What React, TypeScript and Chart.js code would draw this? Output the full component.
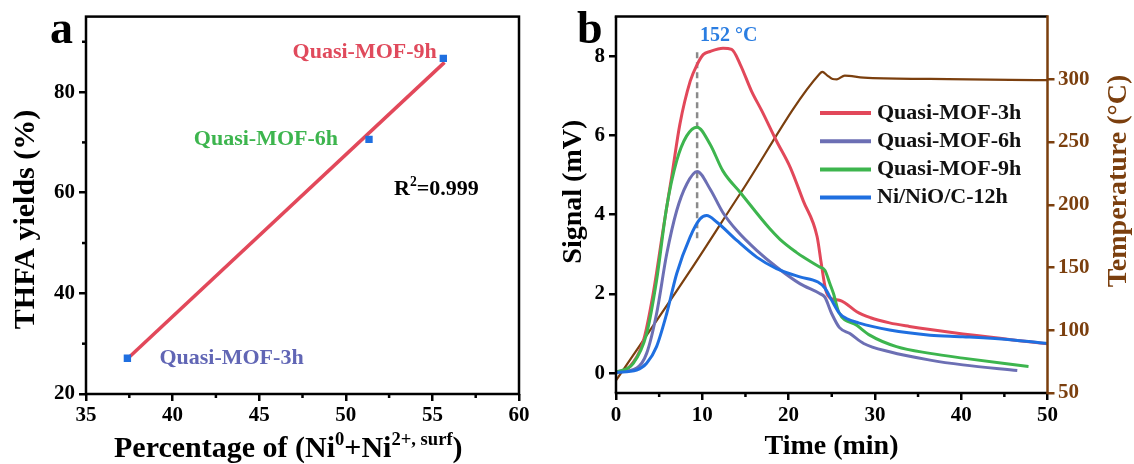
import React, { useEffect, useRef } from "react";
import { Chart, registerables } from "chart.js";

Chart.register(...registerables);

const SERIF = '"Liberation Serif", "Times New Roman", Times, serif';

// ---------------- Panel a data ----------------
const aSampleNames = ["Quasi-MOF-3h", "Quasi-MOF-6h", "Quasi-MOF-9h"];
const aNiPercent = [37.39, 51.34, 55.63];
const aThfaYield = [27.1, 70.6, 86.7];
const aFitPercent = [37.3, 55.7];
const aFitYield = [26.7, 85.9];
const aXTicks = [35, 40, 45, 50, 55, 60];
const aXMinorTicks = [37.5, 42.5, 47.5, 52.5, 57.5];
const aYTicks = [20, 40, 60, 80];
const aYMinorTicks = [30, 50, 70, 90];
const aR2Value = "=0.999";

// ---------------- Panel b data ----------------
const bNames = ["Quasi-MOF-3h", "Quasi-MOF-6h", "Quasi-MOF-9h", "Ni/NiO/C-12h"];

const time3h = [0, 1.6, 3.2, 4.3, 5.5, 6.5, 7.4, 8.6, 9.4, 10.1, 10.9, 12.4, 13.4, 14.4, 15.7, 16.9, 18.6, 20.2, 21.7, 23.3, 23.8, 24.3, 24.8, 25.9, 26.5, 27.9, 29.5, 31.7, 34, 36.4, 40.2, 43, 46, 50];
const signal3h = [0.02, 0.17, 0.84, 2.0, 3.68, 5.03, 6.28, 7.37, 7.79, 8.04, 8.12, 8.2, 8.17, 7.79, 7.12, 6.62, 5.86, 5.19, 4.35, 3.45, 2.75, 2.1, 1.9, 1.84, 1.78, 1.55, 1.4, 1.27, 1.18, 1.1, 0.99, 0.92, 0.84, 0.74];

const time6h = [0, 2.4, 3.55, 4.7, 5.87, 7.03, 8.19, 9.4, 10.9, 12.4, 14.0, 16.3, 18.6, 21.3, 23.6, 24.2, 25.0, 25.9, 27.1, 28.7, 31.7, 36.4, 40.2, 46.5];
const signal6h = [0.02, 0.13, 0.5, 1.5, 3.0, 4.1, 4.77, 5.09, 4.65, 4.05, 3.6, 3.1, 2.68, 2.26, 2.01, 1.92, 1.5, 1.15, 1.0, 0.75, 0.54, 0.33, 0.21, 0.07];

const time9h = [0, 2.0, 3.55, 4.7, 5.87, 7.03, 8.19, 9.4, 10.9, 12.4, 14.4, 17.8, 19.0, 20.9, 21.7, 23.6, 24.2, 24.8, 25.2, 25.8, 27.9, 29.4, 32.5, 36.4, 40.2, 47.8];
const signal9h = [0.02, 0.25, 1.0, 2.34, 4.19, 5.36, 5.99, 6.21, 5.78, 5.1, 4.56, 3.65, 3.38, 3.05, 2.93, 2.68, 2.6, 2.25, 2.01, 1.55, 1.21, 0.96, 0.67, 0.5, 0.38, 0.17];

const time12h = [0, 2.4, 3.55, 4.7, 5.87, 7.03, 8.57, 9.73, 10.5, 11.7, 14.0, 16.3, 18.6, 21.3, 23.4, 24.2, 25.0, 25.9, 26.7, 28.1, 31.7, 36.4, 40.2, 46, 50];
const signal12h = [0.02, 0.08, 0.25, 0.67, 1.5, 2.51, 3.43, 3.89, 3.98, 3.81, 3.35, 2.93, 2.64, 2.43, 2.3, 2.15, 1.84, 1.51, 1.38, 1.27, 1.09, 0.96, 0.92, 0.84, 0.75];

const timeTemp = [0, 8.6, 14.4, 23.6, 23.9, 24.5, 25.1, 25.6, 26.5, 28.7, 36.4, 45.7, 50];
const temperature = [60, 147.5, 209, 304.5, 306, 303, 300.3, 300, 303, 301.3, 300.3, 299.5, 299.3];

const bXTicks = [0, 10, 20, 30, 40, 50];
const bXMinorTicks = [5, 15, 25, 35, 45];
const bYTicks = [0, 2, 4, 6, 8];
const bTempTicks = [50, 100, 150, 200, 250, 300];

const peakTime = 9.4;
const peakSignalRange = [3.4, 8.1];
const peakLabel = "152 °C";

// ---------------- styles ----------------
const RED = "#E2485A";
const PURPLE = "#6C6FB4";
const GREEN = "#3DB54E";
const BLUE = "#1F6FE0";
const BROWN = "#7B3F0E";
const MARK_BLUE = "#1F6FE0";
const LABEL_COLORS_A = ["#6166B5", "#3DB54E", "#E04A5C"];
const SERIES_COLORS_B = [RED, PURPLE, GREEN, BLUE];

const BX = 545; // left offset of canvas b

function drawRich(
  ctx: CanvasRenderingContext2D,
  parts: Array<[string, boolean]>,
  x: number,
  y: number,
  size: number,
  color: string,
  align: "left" | "center" | "right" = "left"
) {
  ctx.save();
  ctx.fillStyle = color;
  ctx.textBaseline = "alphabetic";
  ctx.textAlign = "left";
  const supSize = size * 0.62;
  const widths = parts.map(([t, sup]) => {
    ctx.font = `bold ${sup ? supSize : size}px ${SERIF}`;
    return ctx.measureText(t).width;
  });
  const total = widths.reduce((a, b) => a + b, 0);
  let cx = align === "center" ? x - total / 2 : align === "right" ? x - total : x;
  parts.forEach(([t, sup], i) => {
    ctx.font = `bold ${sup ? supSize : size}px ${SERIF}`;
    ctx.fillText(t, cx, sup ? y - size * 0.4 : y);
    cx += widths[i];
  });
  ctx.restore();
}

function drawRotated(ctx: CanvasRenderingContext2D, text: string, x: number, y: number, size: number, color: string) {
  ctx.save();
  ctx.translate(x, y);
  ctx.rotate(-Math.PI / 2);
  ctx.font = `bold ${size}px ${SERIF}`;
  ctx.fillStyle = color;
  ctx.textAlign = "center";
  ctx.textBaseline = "alphabetic";
  ctx.fillText(text, 0, 0);
  ctx.restore();
}

function seg(ctx: CanvasRenderingContext2D, x1: number, y1: number, x2: number, y2: number) {
  ctx.beginPath();
  ctx.moveTo(x1, y1);
  ctx.lineTo(x2, y2);
  ctx.stroke();
}

const tickFont = { family: SERIF, size: 21, weight: "bold" as const, lineHeight: 1.2 };

function gridTicks(color: string) {
  return {
    display: true,
    drawOnChartArea: false,
    drawTicks: true,
    tickLength: 7,
    tickWidth: 2.5,
    tickColor: color,
    lineWidth: 2.5,
    color: color,
  };
}

const decorA = {
  id: "decorA",
  afterDraw(chart: any) {
    const { ctx, chartArea: ca, scales } = chart;
    ctx.save();
    ctx.strokeStyle = "#000";
    ctx.lineWidth = 2.5;
    aXMinorTicks.forEach((v) => {
      const px = scales.x.getPixelForValue(v);
      seg(ctx, px, ca.bottom, px, ca.bottom + 4);
    });
    aYMinorTicks.forEach((v) => {
      const py = scales.y.getPixelForValue(v);
      seg(ctx, ca.left - 4, py, ca.left, py);
    });
    ctx.strokeRect(ca.left, ca.top, ca.right - ca.left, ca.bottom - ca.top);
    ctx.restore();

    // sample labels next to their points
    const offsets: Array<[number, number, "left" | "right"]> = [
      [32, 6, "left"],
      [-31, 5.5, "right"],
      [-6.5, -0.5, "right"],
    ];
    aSampleNames.forEach((name, i) => {
      const px = scales.x.getPixelForValue(aNiPercent[i]);
      const py = scales.y.getPixelForValue(aThfaYield[i]);
      const [dx, dy, al] = offsets[i];
      drawRich(ctx, [[name, false]], px + dx, py + dy, 22, LABEL_COLORS_A[i], al);
    });

    drawRich(ctx, [["R", false], ["2", true], [aR2Value, false]], 394, 195, 22, "#000");

    // panel letter
    drawRich(ctx, [["a", false]], 50, 43, 46, "#000");

    // axis titles
    drawRich(
      ctx,
      [
        ["Percentage of (Ni", false],
        ["0", true],
        ["+Ni", false],
        ["2+, surf", true],
        [")", false],
      ],
      114,
      457,
      30,
      "#000"
    );
    drawRotated(ctx, "THFA yields (%)", 34, 219.5, 30, "#000");
  },
};

const decorB = {
  id: "decorB",
  beforeDatasetsDraw(chart: any) {
    const { ctx, scales } = chart;
    const px = scales.x.getPixelForValue(peakTime);
    ctx.save();
    ctx.strokeStyle = "#8a8a8a";
    ctx.lineWidth = 2.5;
    ctx.setLineDash([6, 4]);
    seg(ctx, px, scales.y.getPixelForValue(peakSignalRange[1]), px, scales.y.getPixelForValue(peakSignalRange[0]));
    ctx.restore();
  },
  afterDraw(chart: any) {
    const { ctx, chartArea: ca, scales } = chart;
    ctx.save();
    ctx.lineWidth = 2.5;
    ctx.strokeStyle = "#000";
    bXMinorTicks.forEach((v) => {
      const px = scales.x.getPixelForValue(v);
      seg(ctx, px, ca.bottom, px, ca.bottom + 4);
    });
    seg(ctx, ca.left, ca.top, ca.left, ca.bottom);
    seg(ctx, ca.left - 1.25, ca.top, ca.right, ca.top);
    seg(ctx, ca.left - 1.25, ca.bottom, ca.right, ca.bottom);
    ctx.strokeStyle = BROWN;
    seg(ctx, ca.right, ca.top - 1.25, ca.right, ca.bottom + 1.25);
    ctx.restore();

    // peak annotation
    const px = scales.x.getPixelForValue(peakTime);
    drawRich(ctx, [[peakLabel, false]], px + 3, 40.5, 20, "#2A7DE1");

    // legend
    const lx1 = 820 - BX;
    const lx2 = 871 - BX;
    bNames.forEach((name, i) => {
      const y = 113 + i * 28.2;
      ctx.save();
      ctx.strokeStyle = SERIES_COLORS_B[i];
      ctx.lineWidth = 4;
      seg(ctx, lx1, y, lx2, y);
      ctx.font = `bold 22px ${SERIF}`;
      ctx.fillStyle = "#111";
      ctx.textAlign = "left";
      ctx.textBaseline = "middle";
      ctx.fillText(name, 877 - BX, y);
      ctx.restore();
    });

    // panel letter and titles
    drawRich(ctx, [["b", false]], 577 - BX, 43, 46, "#000");
    drawRich(ctx, [["Time (min)", false]], 831.5 - BX, 454, 28, "#000", "center");
    drawRotated(ctx, "Signal (mV)", 581 - BX, 191.7, 28, "#000");
    drawRotated(ctx, "Temperature (°C)", 1126 - BX, 181, 28, BROWN);
  },
};

function lineSeries(label: string, ts: number[], vs: number[], color: string, order: number, axis = "y", width = 3) {
  return {
    type: "line" as const,
    label,
    data: ts.map((t, i) => ({ x: t, y: vs[i] })),
    borderColor: color,
    backgroundColor: color,
    borderWidth: width,
    pointRadius: 0,
    cubicInterpolationMode: "monotone" as const,
    fill: false,
    yAxisID: axis,
    order,
  };
}

export default function App() {
  const refA = useRef<HTMLCanvasElement>(null);
  const refB = useRef<HTMLCanvasElement>(null);

  useEffect(() => {
    const chartA = new Chart(refA.current as HTMLCanvasElement, {
      type: "scatter",
      data: {
        datasets: [
          {
            type: "scatter",
            label: "THFA yields",
            data: aNiPercent.map((x, i) => ({ x, y: aThfaYield[i] })),
            pointStyle: "rect",
            pointRadius: 5.2,
            backgroundColor: MARK_BLUE,
            borderWidth: 0,
            order: 1,
          },
          {
            type: "line",
            label: "Linear fit",
            data: aFitPercent.map((x, i) => ({ x, y: aFitYield[i] })),
            borderColor: RED,
            borderWidth: 3.5,
            pointRadius: 0,
            showLine: true,
            order: 2,
          },
        ],
      } as any,
      options: {
        responsive: false,
        animation: false,
        devicePixelRatio: 1,
        layout: { padding: { top: 15.7, right: 26, left: 0, bottom: 0 } },
        plugins: { legend: { display: false }, tooltip: { enabled: false } },
        scales: {
          x: {
            type: "linear",
            min: 35,
            max: 60,
            afterBuildTicks: (s: any) => {
              s.ticks = aXTicks.map((v) => ({ value: v }));
            },
            afterFit: (s: any) => {
              s.height = 70;
            },
            grid: gridTicks("#000"),
            border: { display: false },
            ticks: { font: tickFont, color: "#000", padding: 1.5, maxRotation: 0, autoSkip: false },
          },
          y: {
            type: "linear",
            min: 20,
            max: 95,
            afterBuildTicks: (s: any) => {
              s.ticks = aYTicks.map((v) => ({ value: v }));
            },
            afterFit: (s: any) => {
              s.width = 86;
            },
            grid: gridTicks("#000"),
            border: { display: false },
            ticks: { font: tickFont, color: "#000", padding: 4, autoSkip: false },
          },
        },
      } as any,
      plugins: [decorA],
    });

    const chartB = new Chart(refB.current as HTMLCanvasElement, {
      type: "line",
      data: {
        datasets: [
          lineSeries("Temperature", timeTemp, temperature, BROWN, 5, "y1", 2.2),
          lineSeries(bNames[0], time3h, signal3h, RED, 4),
          lineSeries(bNames[1], time6h, signal6h, PURPLE, 3),
          lineSeries(bNames[2], time9h, signal9h, GREEN, 2),
          lineSeries(bNames[3], time12h, signal12h, BLUE, 1),
        ],
      } as any,
      options: {
        responsive: false,
        animation: false,
        devicePixelRatio: 1,
        layout: { padding: { top: 15, right: 0, left: 0, bottom: 0 } },
        plugins: { legend: { display: false }, tooltip: { enabled: false } },
        scales: {
          x: {
            type: "linear",
            min: 0,
            max: 50,
            afterBuildTicks: (s: any) => {
              s.ticks = bXTicks.map((v) => ({ value: v }));
            },
            afterFit: (s: any) => {
              s.height = 71;
            },
            grid: gridTicks("#000"),
            border: { display: false },
            ticks: { font: tickFont, color: "#000", padding: 2.5, maxRotation: 0, autoSkip: false },
          },
          y: {
            type: "linear",
            position: "left",
            min: -0.5,
            max: 9,
            afterBuildTicks: (s: any) => {
              s.ticks = bYTicks.map((v) => ({ value: v }));
            },
            afterFit: (s: any) => {
              s.width = 616 - BX;
            },
            grid: gridTicks("#000"),
            border: { display: false },
            ticks: { font: tickFont, color: "#000", padding: 4, autoSkip: false },
          },
          y1: {
            type: "linear",
            position: "right",
            min: 50,
            max: 350,
            afterBuildTicks: (s: any) => {
              s.ticks = bTempTicks.map((v) => ({ value: v }));
            },
            afterFit: (s: any) => {
              s.width = 86.5;
            },
            grid: gridTicks(BROWN),
            border: { display: false },
            ticks: { font: tickFont, color: BROWN, padding: 3.5, autoSkip: false },
          },
        },
      } as any,
      plugins: [decorB],
    });

    return () => {
      chartA.destroy();
      chartB.destroy();
    };
  }, []);

  return (
    <div style={{ position: "fixed", left: 0, top: 0, width: 1134, height: 464, background: "#fff" }}>
      <canvas
        ref={refA}
        width={BX}
        height={464}
        style={{ position: "absolute", left: 0, top: 0, width: BX, height: 464 }}
      />
      <canvas
        ref={refB}
        width={1134 - BX}
        height={464}
        style={{ position: "absolute", left: BX, top: 0, width: 1134 - BX, height: 464 }}
      />
    </div>
  );
}
